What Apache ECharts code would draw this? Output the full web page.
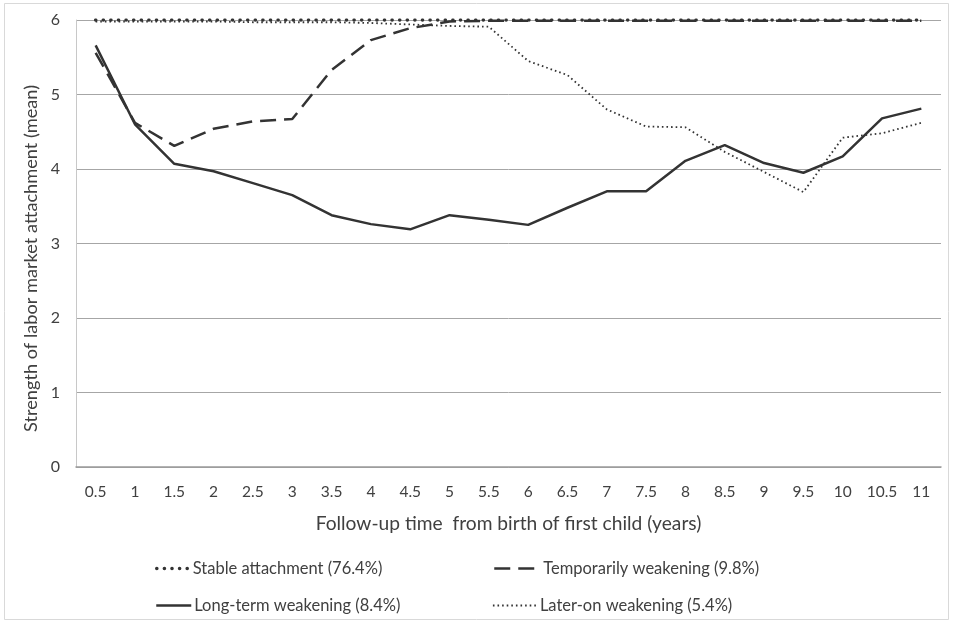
<!DOCTYPE html>
<html>
<head>
<meta charset="utf-8">
<script src="https://cdn.jsdelivr.net/npm/echarts@6/dist/echarts.min.js"></script>
<style>html,body{margin:0;padding:0;background:#fff;}#c{width:953px;height:624px;}</style>
</head>
<body>
<div id="c"></div>
<script>
const categories = ['0.5','1','1.5','2','2.5','3','3.5','4','4.5','5','5.5','6','6.5','7','7.5','8','8.5','9','9.5','10','10.5','11'];
const stableAttachment = [6,6,6,6,6,6,6,6,6,6,6,6,6,6,6,6,6,6,6,6,6,6];
const temporarilyWeakening = [5.56,4.62,4.31,4.54,4.64,4.67,5.33,5.73,5.89,5.98,5.99,5.99,5.99,5.99,5.99,5.99,5.99,5.99,5.99,5.99,5.99,5.99];
const longTermWeakening = [5.66,4.6,4.07,3.97,3.81,3.65,3.38,3.26,3.19,3.38,3.32,3.25,3.48,3.7,3.7,4.11,4.32,4.08,3.95,4.17,4.68,4.81];
const laterOnWeakening = [5.98,5.98,5.98,5.98,5.97,5.97,5.97,5.96,5.94,5.92,5.91,5.45,5.26,4.8,4.57,4.56,4.23,3.96,3.69,4.42,4.48,4.62];
const seriesNames = ['Stable attachment (76.4%)','Temporarily weakening (9.8%)','Long-term weakening (8.4%)','Later-on weakening (5.4%)'];
const yTicks = [0,1,2,3,4,5,6];

const FONT = 'Lato';
const TXT = '#404040';
const lineStyles = [
  {color:'#333', width:3.5, type:[0.1,7.5], cap:'round'},
  {color:'#333', width:2.5, type:[16,8]},
  {color:'#333', width:2.5, type:'solid'},
  {color:'#333', width:1.8, type:[1.6,3]}
];
function leg(i, left, top, w) {
  return {top:top, left:left, itemWidth:w, itemHeight:10, itemGap:0, data:[seriesNames[i]],
    itemStyle:{opacity:0}, lineStyle:lineStyles[i],
    textStyle:{color:TXT, fontFamily:FONT, fontSize:16.5, padding:[0,0,0,-2]}};
}
const chart = echarts.init(document.getElementById('c'));
chart.setOption({
  animation: false,
  backgroundColor: '#fff',
  graphic: [{type:'rect', shape:{x:4.5,y:3.5,width:944,height:616}, style:{fill:'none', stroke:'#d9d9d9', lineWidth:1}, silent:true}],
  grid: {left:76, right:12, top:20, bottom:157},
  xAxis: {
    type:'category', data: categories, boundaryGap: true,
    axisLine:{lineStyle:{color:'#9a9a9a', width:1.5}},
    axisTick:{show:false},
    axisLabel:{color:TXT, fontFamily:FONT, fontSize:15.5, margin:17, interval:0},
    name:'Follow-up time  from birth of first child (years)', nameLocation:'middle', nameGap:47,
    nameTextStyle:{color:TXT, fontFamily:FONT, fontSize:19.2}
  },
  yAxis: {
    type:'value', min:yTicks[0], max:yTicks[yTicks.length-1], interval:1,
    axisLine:{show:true, lineStyle:{color:'#c8c8c8', width:1}},
    axisTick:{show:false},
    splitLine:{lineStyle:{color:'#a6a6a6', width:1}},
    axisLabel:{color:TXT, fontFamily:FONT, fontSize:16, margin:16},
    name:'Strength of labor market attachment (mean)', nameLocation:'middle', nameGap:36,
    nameTextStyle:{color:TXT, fontFamily:FONT, fontSize:18.2, padding:[0,30,0,0]}
  },
  legend: [
    leg(0, 150, 555, 33),
    leg(1, 488, 555, 46),
    leg(2, 150, 592, 35),
    leg(3, 487, 592, 44)
  ],
  series: [
    {name:seriesNames[0], type:'line', data:stableAttachment, symbol:'none', z:4, lineStyle:lineStyles[0], itemStyle:{color:'#333'}},
    {name:seriesNames[1], type:'line', data:temporarilyWeakening, symbol:'none', z:3, lineStyle:lineStyles[1], itemStyle:{color:'#333'}},
    {name:seriesNames[2], type:'line', data:longTermWeakening, symbol:'none', z:3, lineStyle:lineStyles[2], itemStyle:{color:'#333'}},
    {name:seriesNames[3], type:'line', data:laterOnWeakening, symbol:'none', z:2, lineStyle:lineStyles[3], itemStyle:{color:'#333'}}
  ]
});
</script>
</body>
</html>
